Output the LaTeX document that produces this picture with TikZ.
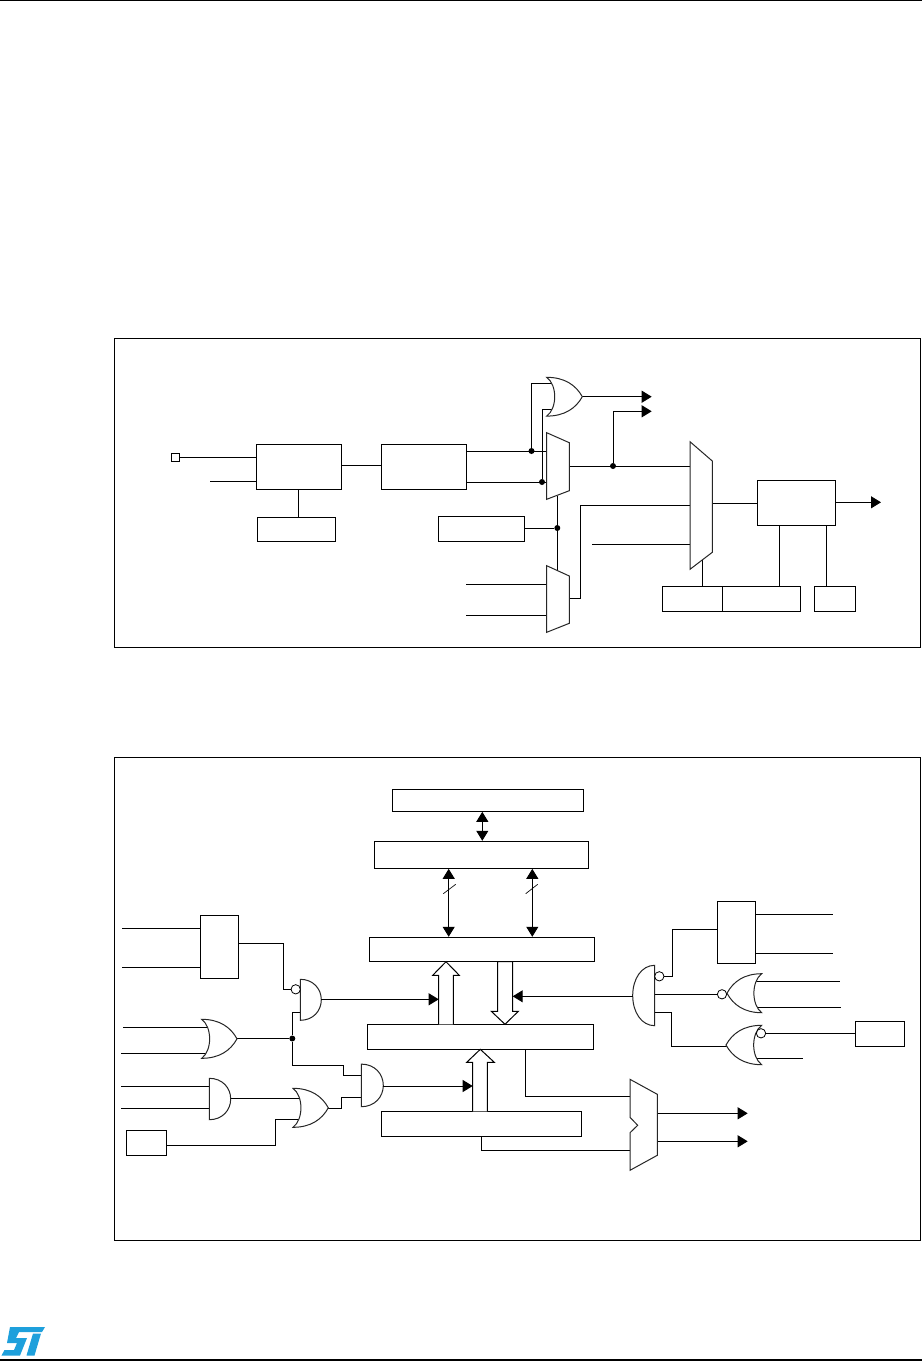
\documentclass[tikz,border=0pt]{standalone}
\usetikzlibrary{fit,arrows.meta,calc}
\definecolor{logoblue}{RGB}{30,160,220}
\tikzset{
  blockbox/.style={draw, fill=white, inner sep=0pt, line width=0.8pt},
  framebox/.style={draw, inner sep=0pt, line width=0.9pt},
  junction/.style={circle, fill=black, inner sep=0pt, minimum size=4.5pt},
  bubble/.style={circle, draw, fill=white, inner sep=0pt, minimum size=7pt, line width=0.6pt},
  sigarrow/.style={-{Triangle[length=7.5pt,width=9pt]}},
  bothways/.style={{Triangle[length=7.5pt,width=9pt]}-{Triangle[length=7.5pt,width=9pt]}},
  gateline/.style={draw=black!85, fill=white, line width=0.75pt},
  orshape/.pic={\path[gateline] (0,1) .. controls (0.5,1) and (0.82,0.6) .. (1,0) .. controls (0.82,-0.6) and (0.5,-1) .. (0,-1) .. controls (0.3,-0.6) and (0.3,0.6) .. (0,1) -- cycle;},
  andshape/.pic={\path[gateline] (0,1) .. controls (0.6,1) and (1,0.55) .. (1,0) .. controls (1,-0.55) and (0.6,-1) .. (0,-1) -- cycle;}
}
\begin{document}
\begin{tikzpicture}[x=0.75pt, y=-0.75pt, line width=0.75pt]
    \useasboundingbox (0,0) rectangle (922,1361);
    % page rules and logo
    \draw[line width=1.1pt] (0,0.5) -- (922,0.5);
    \draw[line width=1.1pt] (0,1360) -- (922,1360);
    \fill[logoblue] (10,1327) -- (45,1327) -- (42,1332) -- (19,1332) -- (16,1338) -- (27,1338) -- (20,1355.5) -- (1.5,1355.5) -- (4.5,1350) -- (14,1350) -- (17,1343) -- (7,1343) -- cycle;
    \fill[logoblue] (33,1333.5) -- (41,1333.5) -- (34.5,1355.5) -- (26.5,1355.5) -- cycle;
    % frames
    \node[framebox, fit={(114.3,338.3)(920.5,647.3)}] (framea) {};
    \node[framebox, fit={(114.3,757.3)(920.5,1240.7)}] (frameb) {};

    % upper frame: boxes
    \node[blockbox, fit={(256.3,444.3)(341.3,489.3)}] (blka) {};
    \node[blockbox, fit={(381.3,444.3)(466.3,489.3)}] (blkb) {};
    \node[blockbox, fit={(257.3,517.3)(335.3,541.3)}] (blkc) {};
    \node[blockbox, fit={(438.3,516.3)(524.3,541.3)}] (blkd) {};
    \node[blockbox, fit={(171.3,453.3)(179.3,461.3)}] (pinbox) {};
    \node[blockbox, fit={(757.3,480.3)(835.3,525.3)}] (blke) {};
    \node[blockbox, fit={(662.3,586.3)(722.3,611.3)}] (blkf) {};
    \node[blockbox, fit={(722.3,586.3)(800.3,611.3)}] (blkg) {};
    \node[blockbox, fit={(814.3,586.3)(855.3,611.3)}] (blkh) {};
    % upper frame: ports
    \coordinate (inpa) at (210,481.3);
    \coordinate (muxatop) at (546.7,451.3);
    \coordinate (muxalow) at (546.7,482.3);
    \coordinate (muxaout) at (569.3,466.3);
    \coordinate (muxcin) at (546.7,584.3);
    \coordinate (muxcinb) at (546.7,615.3);
    \coordinate (muxcout) at (569.3,598.3);
    \coordinate (muxbtop) at (690,466.3);
    \coordinate (muxbmid) at (690,505.3);
    \coordinate (muxblow) at (690,544.3);
    \coordinate (muxbout) at (712.3,503.3);
    \coordinate (muxbbot) at (702.3,560);
    \coordinate (oraup) at (553,383.3);
    \coordinate (oralow) at (553,409.3);
    \coordinate (oraout) at (582.3,396.7);
    \coordinate (oraend) at (651.7,396.7);
    \coordinate (tapend) at (651.7,411.3);
    \coordinate (outend) at (881,502.3);
    \coordinate (muxsela) at (557.3,496);
    \coordinate (muxselb) at (557.3,570.7);
    \node[junction] (jcta) at (531.5,451) {};
    \node[junction] (jctb) at (542,482) {};
    \node[junction] (jctc) at (557.3,528) {};
    \node[junction] (jctd) at (613,466) {};
    % upper frame: wires
    \draw (pinbox.east) -- (pinbox.east -| blka.west);
    \draw (inpa) -- (inpa -| blka.west);
    \draw (blka.east |- 0,465.3) -- (blkb.west |- 0,465.3);
    \draw (blka.south -| 298.3,0) -- (blkc.north -| 298.3,0);
    \draw (blkb.east |- muxatop) -- (muxatop);
    \draw (blkb.east |- muxalow) -- (muxalow);
    \draw (jcta) |- (oraup);
    \draw (jctb) |- (oralow);
    \draw (466,584.3) -- (muxcin);
    \draw (466,615.3) -- (muxcinb);
    \draw (muxsela) -- (muxselb);
    \draw (blkd.east |- jctc) -- (jctc);
    \draw (muxaout) -- (muxbtop);
    \draw[sigarrow] (jctd) |- (tapend);
    \draw[sigarrow] (oraout) -- (oraend);
    \draw (muxcout) -| (580.3,505.3) -- (muxbmid);
    \draw (592,544.3) -- (muxblow);
    \draw (muxbout) -- (blke.west |- muxbout);
    \draw[sigarrow] (blke.east |- outend) -- (outend);
    \draw (muxbbot) -- (muxbbot |- blkf.north);
    \draw (blke.south -| 779.3,0) -- (blkg.north -| 779.3,0);
    \draw (blke.south -| 826.3,0) -- (blkh.north -| 826.3,0);
    % upper frame: gates and muxes
    \pic[xscale=35.6, yscale=19.4] at (546.7,396.7) {orshape};
    \path[gateline] (546.7,432.7) -- (569.3,442.7) -- (569.3,490.7) -- (546.7,499.3) -- cycle;
    \path[gateline] (546.7,565.7) -- (569.3,576) -- (569.3,623.3) -- (546.7,632.3) -- cycle;
    \path[gateline] (690,441.7) -- (712.3,461) -- (712.3,552.3) -- (690,569.3) -- cycle;

    % lower frame: centre boxes
    \node[blockbox, fit={(392.3,789.3)(583.3,811.3)}] (rega) {};
    \node[blockbox, fit={(374.3,841.3)(588.3,868.3)}] (regb) {};
    \node[blockbox, fit={(369.3,937.3)(594.3,961.3)}] (regc) {};
    \node[blockbox, fit={(367.3,1024.3)(593.3,1049.3)}] (regd) {};
    \node[blockbox, fit={(381.3,1111.3)(581.3,1136.3)}] (rege) {};
    % lower frame: side boxes
    \node[blockbox, fit={(200.3,915.3)(238.3,978.3)}] (sidea) {};
    \node[blockbox, fit={(126.3,1130.3)(166.3,1155.3)}] (sideb) {};
    \node[blockbox, fit={(717.3,901.3)(755.3,963.3)}] (sidec) {};
    \node[blockbox, fit={(855.3,1021.3)(904.3,1046.3)}] (sided) {};
    % lower frame: ports
    \coordinate (andalow) at (300.3,1012.3);
    \coordinate (andaout) at (321.3,999.3);
    \coordinate (andbup) at (361.3,1075.3);
    \coordinate (andblow) at (361.3,1097.3);
    \coordinate (andbout) at (383.3,1086);
    \coordinate (andcout) at (230.7,1098.3);
    \coordinate (orbout) at (237,1038.5);
    \coordinate (orcout) at (328.3,1108);
    \coordinate (hollowa) at (438.7,999.3);
    \coordinate (hollowb) at (512.7,996.3);
    \coordinate (hollowc) at (472.7,1086);
    \coordinate (nandout) at (632.7,996.3);
    \coordinate (muxdup) at (630,1096.3);
    \coordinate (muxdlow) at (630,1150.3);
    \coordinate (outa) at (747.7,1113.3);
    \coordinate (outb) at (747.7,1141.3);
    \node[junction] (jcte) at (292.3,1038.5) {};
    % lower frame: arrows between boxes
    \draw[bothways] (rega.south -| 482.3,0) -- (regb.north -| 482.3,0);
    \draw[bothways] (regb.south -| 448.7,0) -- (regc.north -| 448.7,0);
    \draw[bothways] (regb.south -| 532.3,0) -- (regc.north -| 532.3,0);
    \draw[line width=0.5pt] (443.3,893.7) -- (455.7,884.3);
    \draw[line width=0.5pt] (525.7,893.7) -- (537.7,884.3);
    % lower frame: left wires
    \draw (122,928.3) -- (sidea.west |- 0,928.3);
    \draw (122,967.3) -- (sidea.west |- 0,967.3);
    \draw (jcte) |- (andalow);
    \draw (jcte) -- (292.3,1065) -| (343.3,1075.3) -- (andbup);
    \draw (orbout) -- (jcte);
    \draw (123,1027.3) -- (208,1027.3);
    \draw (121,1053.3) -- (208,1053.3);
    \draw (121,1086.3) -- (209.3,1086.3);
    \draw (121,1108.3) -- (209.3,1108.3);
    \draw (andcout) -- (299,1098.3);
    \draw (sideb.east |- 0,1145.3) -| (275.3,1119.3) -- (299,1119.3);
    \draw (orcout) -| (341.3,1097.3) -- (andblow);
    % lower frame: right wires
    \draw (654.7,1012.3) -| (671.3,1046.3) -- (728,1046.3);
    \draw (sidec.east |- 0,914.3) -- (833.3,914.3);
    \draw (sidec.east |- 0,953.3) -- (833.3,953.3);
    \draw (752,981.3) -- (840,981.3);
    \draw (752,1007.3) -- (840.7,1007.3);
    \draw (752,1058.3) -- (802.7,1058.3);
    % lower frame: mux wires
    \draw (regd.south -| 525.3,0) |- (muxdup);
    \draw (rege.south -| 481.3,0) |- (muxdlow);
    \draw[sigarrow] (657.3,1113.3) -- (outa);
    \draw[sigarrow] (657.3,1141.3) -- (outb);
    % lower frame: gates
    \pic[xscale=21, yscale=20.5] at (300.3,999.8) {andshape};
    \pic[xscale=22, yscale=21.3] at (361.3,1085.4) {andshape};
    \pic[xscale=21.4, yscale=20.7] at (209.3,1099) {andshape};
    \pic[xscale=35.3, yscale=19.5] at (201.7,1038.8) {orshape};
    \pic[xscale=35.3, yscale=19.5] at (293,1107.8) {orshape};
    \pic[xscale=-22, yscale=30.2] at (654.7,995.5) {andshape};
    \pic[xscale=-34.7, yscale=19.5] at (761.7,993.2) {orshape};
    \pic[xscale=-35.7, yscale=19.7] at (761.7,1045) {orshape};
    \path[gateline] (630,1079.3) -- (657.3,1094.3) -- (657.3,1155.3) -- (630,1170.3) -- (630,1132.7) -- (637.7,1125.3) -- (630,1117.3) -- cycle;
    % lower frame: inverting inputs
    \node[bubble] (bubblea) at (295.7,989.3) {};
    \node[bubble] (bubbleb) at (659.3,976.3) {};
    \node[bubble] (bubblec) at (722,994.3) {};
    \node[bubble] (bubbled) at (761,1033.3) {};
    \draw (sidea.east |- 0,943.3) -| (283.3,989.3) -- (bubblea);
    \draw (bubbleb) -| (672.3,929.3) -- (sidec.west |- 0,929.3);
    \draw (654.7,994.3) -- (bubblec);
    \draw (bubbled) -- (sided.west |- bubbled);
    % lower frame: hollow bus arrows
    \draw[fill=white] (438.7,1024.3) -- (438.7,975.3) -- (432.7,975.3) -- (446,961.7) -- (459.3,975.3) -- (453.3,975.3) -- (453.3,1024.3);
    \draw[fill=white] (497.7,961.7) -- (497.7,1011.3) -- (491.3,1011.3) -- (505,1024.3) -- (518.3,1011.3) -- (512.7,1011.3) -- (512.7,961.7) -- cycle;
    \draw[fill=white] (472.7,1111.3) -- (472.7,1062.3) -- (466.7,1062.3) -- (480.3,1049.3) -- (494.3,1062.3) -- (487.3,1062.3) -- (487.3,1111.3);
    \draw[sigarrow] (andaout) -- (hollowa);
    \draw[sigarrow] (andbout) -- (hollowc);
    \draw[sigarrow] (nandout) -- (hollowb);
\end{tikzpicture}
\end{document}
